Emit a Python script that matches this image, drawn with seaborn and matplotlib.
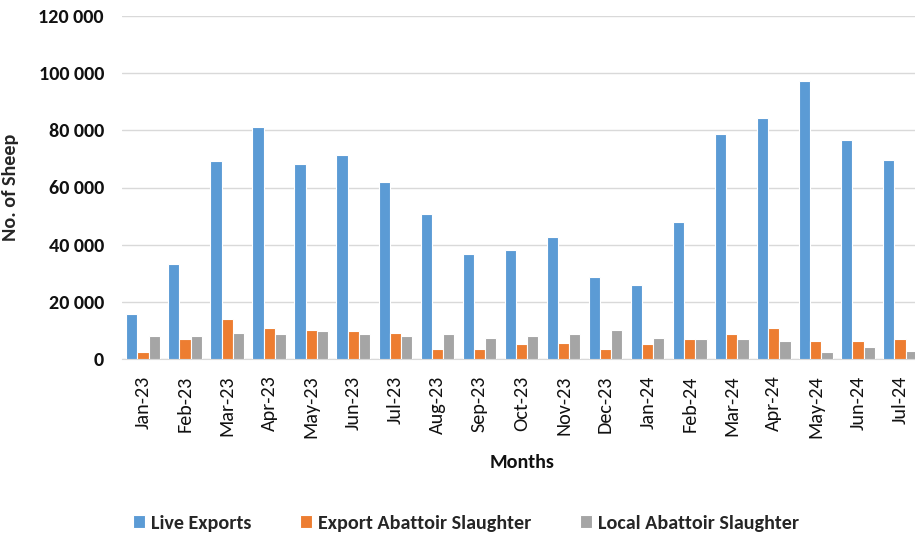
import numpy as np
import pandas as pd
import matplotlib
matplotlib.use("Agg")
import matplotlib.pyplot as plt
import seaborn as sns
from matplotlib import font_manager
from matplotlib.ticker import FuncFormatter

months = ["Jan-23", "Feb-23", "Mar-23", "Apr-23", "May-23", "Jun-23", "Jul-23",
          "Aug-23", "Sep-23", "Oct-23", "Nov-23", "Dec-23", "Jan-24", "Feb-24",
          "Mar-24", "Apr-24", "May-24", "Jun-24", "Jul-24"]
live_exports = [15800, 33300, 69200, 81000, 68100, 71500, 62000, 50700, 36700,
                38300, 42700, 28700, 25900, 47900, 78700, 84300, 97400, 76500, 69700]
export_abattoir = [2450, 6900, 14100, 10700, 10200, 9700, 9100, 3500, 3500,
                   5250, 5700, 3500, 5250, 6900, 8650, 10900, 6400, 6400, 6900]
local_abattoir = [8050, 8050, 9200, 8650, 9700, 8650, 8050, 8650, 7450,
                  8050, 8650, 10300, 7450, 6900, 6900, 6400, 2450, 4100, 2900]
series = ["Live Exports", "Export Abattoir Slaughter", "Local Abattoir Slaughter"]
colors = ["#5B9BD5", "#ED7D31", "#A5A5A5"]

df = pd.DataFrame({"Month": months * 3,
                   "Series": np.repeat(series, len(months)),
                   "Sheep": live_exports + export_abattoir + local_abattoir})

# pick a narrow font if one is installed (reference uses Calibri)
installed = {f.name for f in font_manager.fontManager.ttflist}
family = "Lato"
for cand in ["Carlito", "Liberation Sans Narrow", "Roboto Condensed", "Open Sans Condensed"]:
    if cand in installed:
        family = cand
        break

sns.set_style("white")
plt.rcParams['font.family'] = [family, 'DejaVu Sans']

fig = plt.figure(figsize=(9.15, 5.4), dpi=100)
# chart is cropped on the right in the reference, so axes run past the figure edge
ax = fig.add_axes([122/915, 1 - 359/540, 799/915, 343/540])
sns.barplot(data=df, x="Month", y="Sheep", hue="Series", palette=colors,
            saturation=1, width=0.8, edgecolor="white", linewidth=0.8, ax=ax, zorder=3)

ax.set_ylim(0, 120000)
ax.set_xlim(-0.5, len(months) - 0.5)
ax.set_yticks(np.arange(0, 120001, 20000))
ax.yaxis.set_major_formatter(FuncFormatter(lambda v, p: f"{int(v):,}".replace(",", " ")))
ax.grid(axis="y", color="#D9D9D9", linewidth=1, zorder=0)
for s in ["top", "right", "left"]:
    ax.spines[s].set_visible(False)
ax.spines["bottom"].set_color("#D9D9D9")

ax.set_xticks(np.arange(-0.5, len(months), 1), minor=True)
ax.tick_params(axis="x", which="minor", length=7, color="#D9D9D9", width=1)
ax.tick_params(axis="x", which="major", length=0, pad=12, labelsize=14.5,
               labelcolor="#111111", rotation=90)
ax.tick_params(axis="y", length=0, pad=13, labelsize=14.5, labelcolor="#111111")
for t in ax.get_yticklabels():
    t.set_fontweight("bold")

ax.set_ylabel("No. of Sheep", fontsize=14.5, fontweight="bold")
ax.yaxis.set_label_coords(-103/799, 0.5)
ax.set_xlabel("")
fig.text(522/915, 1 - 462/540, "Months", ha="center", va="center",
         fontsize=14.5, fontweight="bold", color="#111111")

handles, labels = ax.get_legend_handles_labels()
ax.get_legend().remove()
fig.legend(handles, labels, loc="center", bbox_to_anchor=(466/915, 1 - 523/540),
           ncol=3, frameon=False, handlelength=0.6, handleheight=0.6,
           handletextpad=0.3, columnspacing=2.4,
           prop={"size": 14.5, "weight": "bold"})

fig.savefig("out.png", dpi=100)
